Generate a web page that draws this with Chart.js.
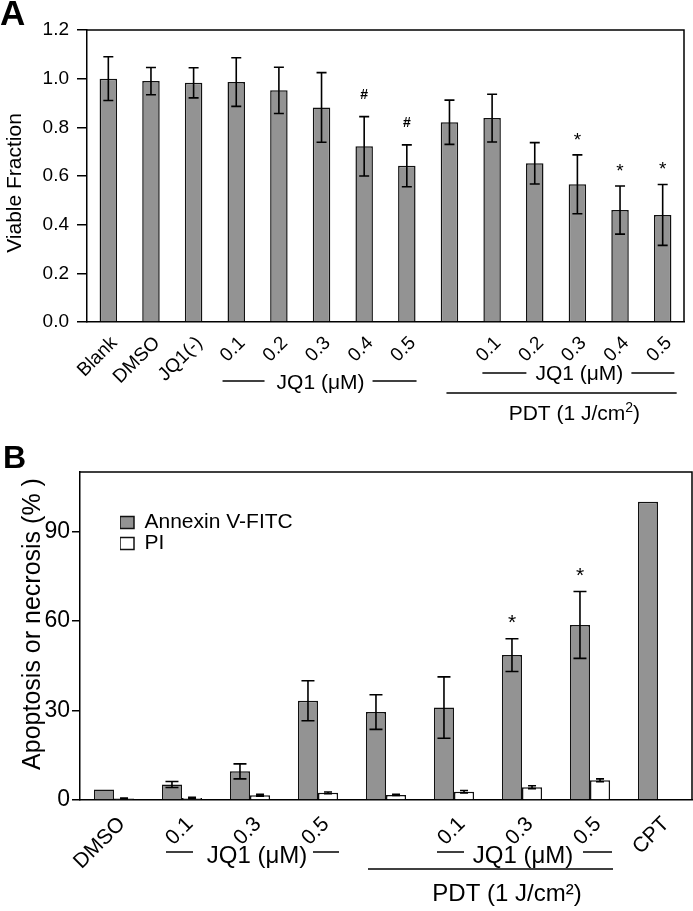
<!DOCTYPE html>
<html><head><meta charset="utf-8">
<script src="https://cdn.jsdelivr.net/npm/chart.js@4.4.1/dist/chart.umd.min.js"></script>
<style>
html,body{margin:0;padding:0;background:#fff;}
#wrap{position:relative;width:693px;height:911px;overflow:hidden;background:#fff;}
#ca{position:absolute;left:0;top:0;}
#cb{position:absolute;left:0;top:435px;}
</style></head><body>
<div id="wrap"><canvas id="ca" width="693" height="430"></canvas><canvas id="cb" width="693" height="476"></canvas></div>
<script>
// ---------- Panel A data ----------
const aLabels = ['Blank','DMSO','JQ1(-)','0.1','0.2','0.3','0.4','0.5','','0.1','0.2','0.3','0.4','0.5'];
const aMean   = [1.00,0.99,0.983,0.986,0.952,0.882,0.722,0.642,0.821,0.838,0.652,0.566,0.460,0.440];
const aErr    = [0.09,0.056,0.062,0.10,0.095,0.143,0.122,0.086,0.091,0.098,0.085,0.121,0.099,0.125];
const aMarks  = ['','','','','','','#','#','','','','*','*','*'];
const aTicks  = [0,0.2,0.4,0.6,0.8,1.0,1.2];

// ---------- Panel B data ----------
const bLabels     = ['DMSO','0.1','0.3','0.5','','0.1','0.3','0.5','CPT'];
const bAnnexin    = [3.5,5.2,9.6,33.3,29.5,31.0,48.6,58.7,100];
const bAnnexinErr = [0,1.0,2.5,6.7,5.8,10.3,5.5,11.2,0];
const bPI         = [0.5,0.7,1.6,2.4,1.7,2.8,4.3,6.6,null];
const bPIErr      = [0.15,0.2,0.3,0.3,0.2,0.4,0.5,0.5,0];
const bMarks      = ['','','','','','','*','*',''];
const bTicks      = [0,30,60,90];

const FF = '"Liberation Sans", Arial, Helvetica, sans-serif';
Chart.defaults.font.family = FF;
Chart.defaults.color = '#000';
const GREY = '#939393';

function hline(ctx, x1, x2, y){ ctx.beginPath(); ctx.moveTo(x1,y); ctx.lineTo(x2,y); ctx.stroke(); }

const errorBars = {
  id:'errorBars',
  afterDatasetsDraw(chart){
    const ctx = chart.ctx, ys = chart.scales.y;
    chart.data.datasets.forEach((ds,di)=>{
      if(!ds.errors) return;
      const meta = chart.getDatasetMeta(di);
      meta.data.forEach((bar,i)=>{
        const v = ds.data[i], e = ds.errors[i];
        if(v==null) return;
        ctx.save();
        ctx.strokeStyle='#000'; ctx.fillStyle='#000'; ctx.lineWidth=1.6;
        let top = ys.getPixelForValue(v);
        if(e){
          const x = bar.x, yt = ys.getPixelForValue(v+e), yb = ys.getPixelForValue(v-e), cw = ds.capHalf;
          ctx.beginPath();
          ctx.moveTo(x,yt); ctx.lineTo(x,yb);
          ctx.moveTo(x-cw,yt); ctx.lineTo(x+cw,yt);
          ctx.moveTo(x-cw,yb); ctx.lineTo(x+cw,yb);
          ctx.stroke();
          top = yt;
        }
        const m = ds.marks ? ds.marks[i] : '';
        if(m){
          const fs = m==='#' ? ds.hashSize : ds.starSize;
          const off = m==='#' ? ds.hashOff : ds.starOff;
          ctx.font = (m==='#' ? 'bold ' : '') + fs+'px '+FF;
          ctx.textAlign='center'; ctx.textBaseline='alphabetic';
          const cy = top - off;
          const base = m==='#' ? cy + 0.35*fs : cy + 0.57*fs;
          ctx.fillText(m, bar.x, base);
        }
        ctx.restore();
      });
    });
  }
};

const frame = {
  id:'frame',
  afterDraw(chart){
    const {ctx, chartArea:ca} = chart;
    ctx.save(); ctx.strokeStyle='#000'; ctx.lineWidth=1.5;
    ctx.beginPath(); ctx.moveTo(ca.left, ca.top); ctx.lineTo(ca.right, ca.top); ctx.lineTo(ca.right, ca.bottom); ctx.stroke();
    ctx.restore();
  }
};

function bracket(ctx, text, cx, ty, ly, l1, l2, r1, r2){
  ctx.textAlign='center'; ctx.textBaseline='middle';
  ctx.fillText(text, cx, ty);
  hline(ctx, cx+l1, cx+l2, ly);
  hline(ctx, cx+r1, cx+r2, ly);
}

const annotA = {
  id:'annotA',
  afterDraw(chart){
    const ctx = chart.ctx, xs = chart.scales.x;
    const px = i => xs.getPixelForValue(i);
    ctx.save(); ctx.fillStyle='#000'; ctx.strokeStyle='#000'; ctx.lineWidth=1.5;
    ctx.font='bold 35px '+FF; ctx.textAlign='left'; ctx.textBaseline='alphabetic';
    ctx.fillText('A', 0, 25);
    ctx.save(); ctx.translate(15.5,183); ctx.rotate(-Math.PI/2);
    ctx.font='21px '+FF; ctx.textAlign='center'; ctx.textBaseline='middle';
    ctx.fillText('Viable Fraction',0,0); ctx.restore();
    ctx.font='21px '+FF;
    bracket(ctx,'JQ1 (μM)',(px(3)+px(7))/2-1,383,381,-98,-56,52,96);
    bracket(ctx,'JQ1 (μM)',(px(9)+px(13))/2+2,374,373,-97,-53,52,95);
    hline(ctx, px(8)-3, px(13)+14, 393);
    // PDT (1 J/cm2) with superscript
    const cx = (px(9)+px(13))/2-3, y = 414;
    const t1='PDT (1 J/cm', t2='2', t3=')';
    ctx.font='21px '+FF; const w1=ctx.measureText(t1).width, w3=ctx.measureText(t3).width;
    ctx.font='14px '+FF; const w2=ctx.measureText(t2).width;
    let x = cx-(w1+w2+w3)/2;
    ctx.textAlign='left'; ctx.textBaseline='middle';
    ctx.font='21px '+FF; ctx.fillText(t1,x,y); x+=w1;
    ctx.font='14px '+FF; ctx.fillText(t2,x,y-6); x+=w2;
    ctx.font='21px '+FF; ctx.fillText(t3,x,y);
    ctx.restore();
  }
};

const annotB = {
  id:'annotB',
  afterDraw(chart){
    const ctx = chart.ctx, xs = chart.scales.x;
    const px = i => xs.getPixelForValue(i);
    ctx.save(); ctx.fillStyle='#000'; ctx.strokeStyle='#000'; ctx.lineWidth=1.5;
    ctx.font='bold 32px '+FF; ctx.textAlign='left'; ctx.textBaseline='alphabetic';
    ctx.fillText('B', 3, 33);
    ctx.save(); ctx.translate(33,189); ctx.rotate(-Math.PI/2);
    ctx.font='25px '+FF; ctx.textAlign='center'; ctx.textBaseline='middle';
    ctx.fillText('Apoptosis or necrosis (% )',0,0); ctx.restore();
    ctx.font='24px '+FF;
    bracket(ctx,'JQ1 (μM)',(px(1)+px(3))/2+7,421,417,-91,-64,56,82);
    bracket(ctx,'JQ1 (μM)',(px(5)+px(7))/2+1,421,417,-86,-59,60,89);
    hline(ctx, px(4)-18, px(7)+23, 434);
    ctx.textAlign='center'; ctx.textBaseline='middle';
    ctx.fillText('PDT (1 J/cm²)', (px(5)+px(7))/2-15, 459);
    ctx.restore();
  }
};

const legendPos = {
  id:'legendPos',
  afterLayout(chart){
    const lg = chart.legend; if(!lg) return;
    const ca = chart.chartArea;
    const w = lg.width, h = lg.height;
    lg.left = ca.left + 40; lg.top = ca.top + 40;
    lg.right = lg.left + w; lg.bottom = lg.top + h;
  }
};

// ---------- Chart A ----------
new Chart(document.getElementById('ca'), {
  type:'bar',
  data:{ labels:aLabels, datasets:[{
    label:'Viable Fraction', data:aMean, errors:aErr, marks:aMarks,
    capHalf:5, hashSize:14, hashOff:23, starSize:19, starOff:20,
    backgroundColor:GREY, borderColor:'#111', borderWidth:1.5,
    barPercentage:0.41, categoryPercentage:1
  }]},
  options:{
    responsive:false, devicePixelRatio:1, animation:false,
    layout:{padding:{top:30,right:9,left:0,bottom:0}},
    plugins:{legend:{display:false}, tooltip:{enabled:false}},
    scales:{
      x:{ grid:{display:false}, border:{display:true,color:'#000',width:1.5},
          ticks:{autoSkip:false,maxRotation:45,minRotation:45,font:{size:19},color:'#000',padding:2,labelOffset:6},
          afterFit(s){ s.height = 108; } },
      y:{ min:0, max:1.2,
          afterBuildTicks(s){ s.ticks = aTicks.map(v=>({value:v})); },
          ticks:{ font:{size:19}, color:'#000', padding:8, callback:v=>Number(v).toFixed(1) },
          grid:{display:true, drawOnChartArea:false, drawTicks:true, tickLength:10, color:'#000', lineWidth:1.5},
          border:{display:true,color:'#000',width:1.5},
          afterFit(s){ s.width = 87; } }
    }
  },
  plugins:[errorBars, frame, annotA]
});

// ---------- Chart B ----------
new Chart(document.getElementById('cb'), {
  type:'bar',
  data:{ labels:bLabels, datasets:[
    { label:'Annexin V-FITC', data:bAnnexin, errors:bAnnexinErr, marks:bMarks,
      capHalf:6.5, starSize:21, starOff:22, hashSize:13, hashOff:22,
      backgroundColor:GREY, borderColor:'#111', borderWidth:1.5,
      barPercentage:1, categoryPercentage:0.59 },
    { label:'PI', data:bPI, errors:bPIErr, marks:null, capHalf:4,
      backgroundColor:'#fff', borderColor:'#111', borderWidth:1.5,
      barPercentage:1, categoryPercentage:0.59 }
  ]},
  options:{
    responsive:false, devicePixelRatio:1, animation:false,
    layout:{padding:{top:37,right:1,left:0,bottom:0}},
    plugins:{
      tooltip:{enabled:false},
      legend:{ display:true, position:'chartArea', align:'start',
        labels:{ boxWidth:14, boxHeight:12, padding:0, font:{size:21}, color:'#000' } }
    },
    scales:{
      x:{ grid:{display:false}, border:{display:true,color:'#000',width:1.5},
          ticks:{autoSkip:false,maxRotation:45,minRotation:45,font:{size:21},color:'#000',padding:4,labelOffset:8},
          afterFit(s){ s.height = 111; } },
      y:{ min:0, max:110,
          afterBuildTicks(s){ s.ticks = bTicks.map(v=>({value:v})); },
          ticks:{ font:{size:23}, color:'#000', padding:2 },
          grid:{display:true, drawOnChartArea:false, drawTicks:true, tickLength:8, color:'#000', lineWidth:1.5},
          border:{display:true,color:'#000',width:1.5},
          afterFit(s){ s.width = 80; } }
    }
  },
  plugins:[errorBars, frame, annotB, legendPos]
});
</script>
</body></html>
